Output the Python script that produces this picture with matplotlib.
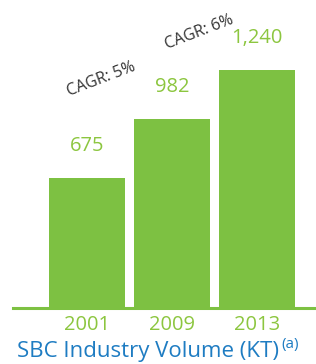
import matplotlib
matplotlib.use("Agg")
import matplotlib.pyplot as plt

years = ["2001", "2009", "2013"]
volumes = [675, 982, 1240]
value_labels = ["675", "982", "1,240"]
cagr_labels = ["CAGR: 5%", "CAGR: 6%"]
title = "SBC Industry Volume (KT)"
title_note = "(a)"

W, H = 316, 364
fig = plt.figure(figsize=(W / 100, H / 100), dpi=100)
plt.rcParams['font.family'] = ['Open Sans', 'DejaVu Sans']

bar_color = "#7dc142"
label_green = "#8cc63f"
title_blue = "#1e7cc2"

base_px = 308
ax = fig.add_axes([0, (H - base_px) / H, 1, base_px / H])
ax.set_axis_off()
px_per_unit = 0.192
ax.set_ylim(0, base_px / px_per_unit)
spacing = 85.0
ax.set_xlim(-87 / spacing, (W - 87) / spacing)

xs = list(range(len(years)))
ax.bar(xs, volumes, width=76 / spacing, color=bar_color, clip_on=False)
ax.axhline(0, xmin=13 / W, xmax=1, color=bar_color, lw=2.2, clip_on=False)

for x, v, lab in zip(xs, volumes, value_labels):
    ax.annotate(lab, (x, v), xytext=(0, 22), textcoords="offset pixels",
                ha="center", va="bottom", fontsize=14.5, color=label_green)

for x, yr in zip(xs, years):
    ax.annotate(yr, (x, 0), xytext=(0, -17), textcoords="offset pixels",
                ha="center", va="center", fontsize=14.5, color=label_green)

# CAGR annotations
fig.text(101 / W, 1 - 79 / H, cagr_labels[0], rotation=21, ha="center", va="center",
         fontsize=11.5, color="#333333")
fig.text(199 / W, 1 - 32 / H, cagr_labels[1], rotation=21, ha="center", va="center",
         fontsize=11.5, color="#333333")

t = fig.text(148 / W, 1 - 352 / H, title, ha="center", va="center",
             fontsize=16, color=title_blue)
fig.canvas.draw()
bb = t.get_window_extent()
fig.text((bb.x1 + 2) / W, (bb.y1 - 3) / H, title_note, ha="left", va="center",
         fontsize=11, color=title_blue)

fig.savefig("out.png", dpi=100)
